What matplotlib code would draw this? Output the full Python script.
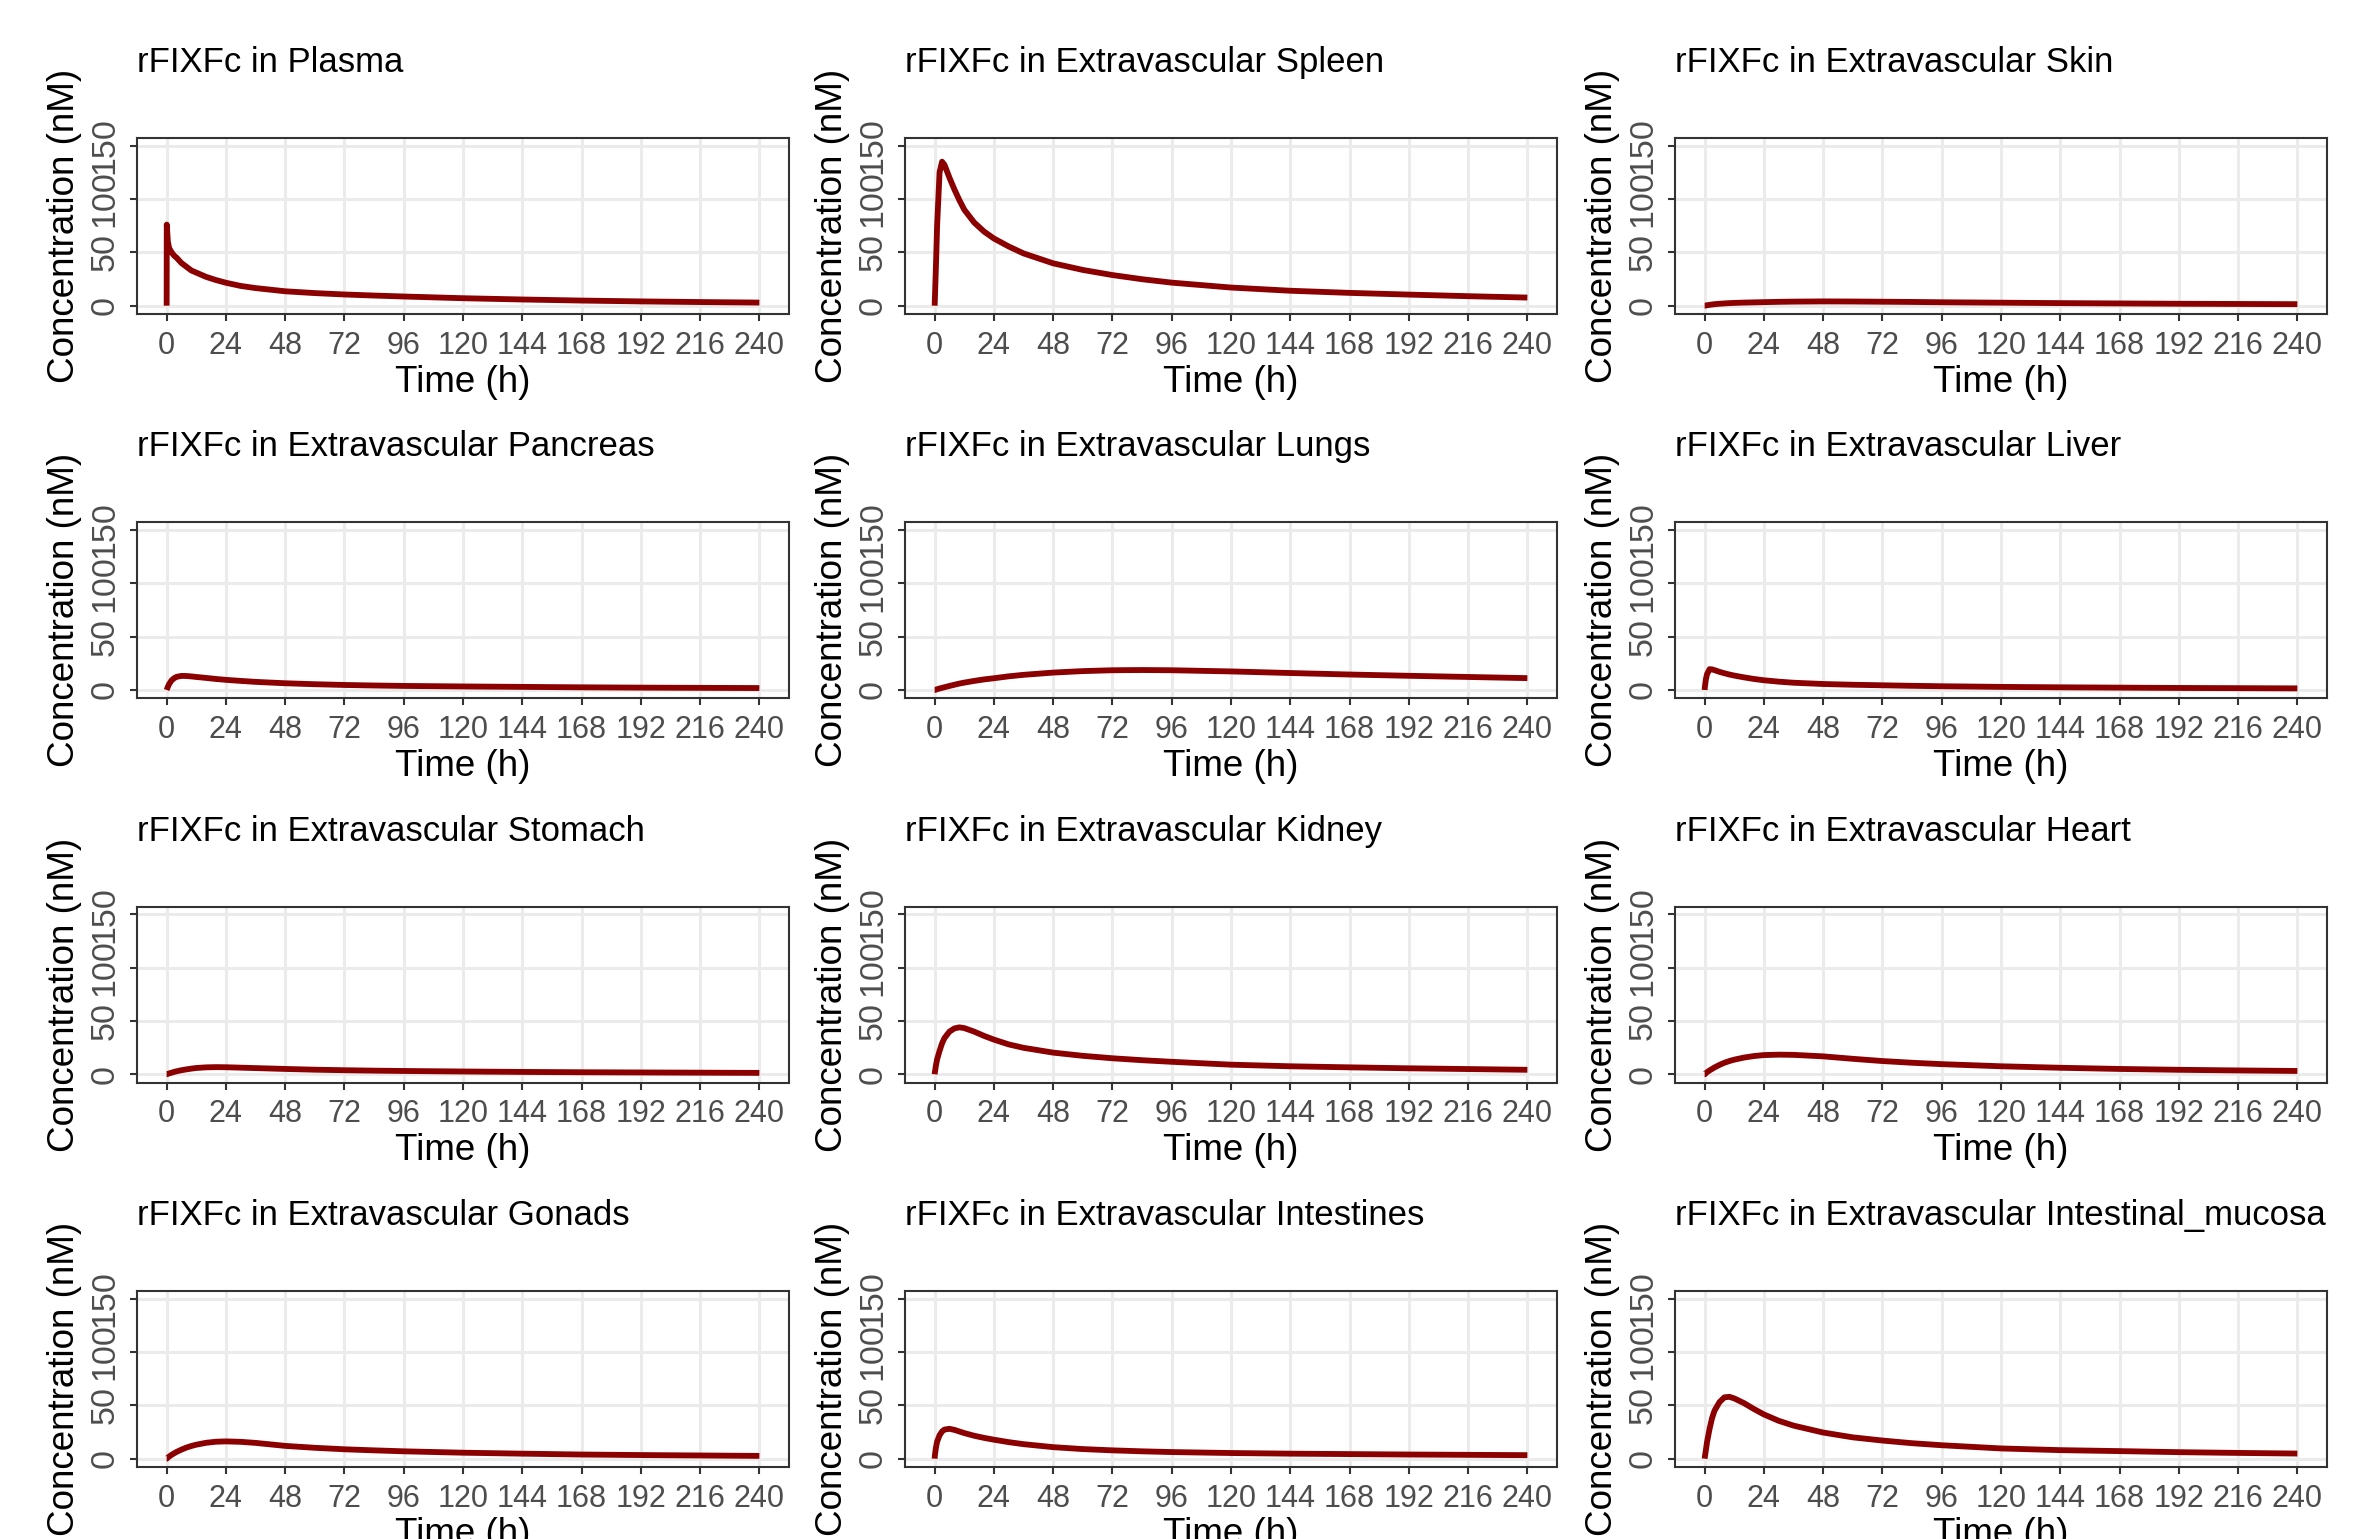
import matplotlib
matplotlib.use("Agg")
import matplotlib.pyplot as plt

plt.rcParams['font.family'] = ['Liberation Sans', 'DejaVu Sans']

# ---------------- data ----------------
time_h = [0, 0.05, 0.5, 1, 2, 3, 4, 6, 8, 10, 12, 16, 20, 24, 30, 36, 48, 60, 72, 84,
          96, 120, 144, 168, 192, 216, 240]

plasma = [0, 76, 60, 54, 50, 47, 45, 40, 36.5, 33, 31, 27, 24, 21.5, 18.5, 16.5, 13.5, 11.8,
          10.5, 9.5, 8.6, 7.0, 5.8, 4.8, 4.0, 3.4, 2.9]
spleen = [0, 3, 35, 75, 125, 135, 132, 120, 109, 99, 90, 78, 69.5, 63, 55.5, 49, 39.7, 33.5,
          28.7, 24.8, 21.6, 17, 14, 12, 10.4, 8.9, 7.6]
skin = [0, 0, 0.2, 0.4, 0.8, 1.1, 1.4, 1.8, 2.1, 2.4, 2.6, 2.9, 3.1, 3.3, 3.6, 3.8, 4.0, 3.9,
        3.7, 3.5, 3.2, 2.8, 2.4, 2.1, 1.8, 1.6, 1.4]
pancreas = [0, 0.3, 3, 5.5, 9, 11, 12.3, 13.2, 13.1, 12.7, 12.2, 11.3, 10.3, 9.5, 8.5, 7.6,
            6.3, 5.4, 4.7, 4.2, 3.8, 3.3, 2.9, 2.5, 2.2, 2.0, 1.8]
lungs = [0, 0, 0.3, 0.7, 1.4, 2.0, 2.6, 3.8, 4.9, 6.0, 6.9, 8.5, 9.9, 11.0, 12.8, 14.2, 16.3,
         17.7, 18.5, 18.7, 18.5, 17.4, 15.9, 14.5, 13.3, 12.2, 11.1]
liver = [0, 2, 10, 15, 19.5, 19.3, 18.6, 17, 15.7, 14.5, 13.5, 11.8, 10.3, 9.1, 7.8, 6.8,
         5.6, 4.9, 4.4, 3.9, 3.5, 2.9, 2.5, 2.2, 1.9, 1.7, 1.5]
stomach = [0, 0, 0.4, 0.8, 1.5, 2.2, 2.8, 3.8, 4.6, 5.3, 5.9, 6.5, 6.7, 6.6, 6.2, 5.8, 5.0,
           4.3, 3.8, 3.4, 3.1, 2.6, 2.2, 1.9, 1.7, 1.5, 1.3]
kidney = [0, 1, 8, 14, 22, 29, 34, 40, 43, 44, 43.3, 40, 36, 32.5, 28, 24.8, 20.3, 17.3,
          15, 13.2, 11.7, 9, 7.5, 6.5, 5.6, 4.9, 4.2]
heart = [0, 0, 1, 2, 3.6, 5, 6.4, 8.8, 10.8, 12.4, 13.7, 15.7, 17.1, 18, 18.4, 18.2, 16.8,
         14.5, 12.4, 10.8, 9.5, 7.5, 6.1, 5.0, 4.2, 3.6, 3.1]
gonads = [0, 0, 1, 2, 3.6, 5, 6.3, 8.5, 10.4, 11.9, 13.1, 14.9, 15.9, 16.2, 15.8, 14.8, 12,
          10.2, 8.8, 7.8, 6.9, 5.6, 4.7, 3.9, 3.4, 3.0, 2.6]
intestines = [0, 2, 10, 16, 22, 25.5, 27.3, 28, 27, 25.5, 24, 21.5, 19.5, 17.8, 15.5, 13.6,
              10.8, 9, 7.8, 6.9, 6.2, 5.3, 4.7, 4.3, 3.9, 3.6, 3.3]
intestinal_mucosa = [0, 1, 8, 16, 28, 38, 45, 53, 57.5, 58, 56.5, 52, 46.5, 41.5, 35.5, 31,
                     24.5, 20, 17, 14.5, 12.6, 9.6, 8.0, 7.1, 6.1, 5.4, 4.8]

titles = ["rFIXFc in Plasma", "rFIXFc in Extravascular Spleen", "rFIXFc in Extravascular Skin",
          "rFIXFc in Extravascular Pancreas", "rFIXFc in Extravascular Lungs",
          "rFIXFc in Extravascular Liver", "rFIXFc in Extravascular Stomach",
          "rFIXFc in Extravascular Kidney", "rFIXFc in Extravascular Heart",
          "rFIXFc in Extravascular Gonads", "rFIXFc in Extravascular Intestines",
          "rFIXFc in Extravascular Intestinal_mucosa"]
series = [plasma, spleen, skin, pancreas, lungs, liver, stomach, kidney, heart, gonads,
          intestines, intestinal_mucosa]

x_ticks = [0, 24, 48, 72, 96, 120, 144, 168, 192, 216, 240]
y_ticks = [0, 50, 100, 150]
x_label = "Time (h)"
y_label = "Concentration (nM)"

# ---------------- figure ----------------
W, H = 2366, 1539
fig = plt.figure(figsize=(W / 100, H / 100), dpi=100)

col_left = [137, 905, 1675]
row_top = [138, 522.3, 906.6, 1291]
pw, ph = 652, 176

line_color = "#8B0000"
grid_color = "#EBEBEB"
dark = "#333333"
tick_text = "#4D4D4D"

for i, (title, y) in enumerate(zip(titles, series)):
    r, c = divmod(i, 3)
    ax = fig.add_axes([col_left[c] / W, 1 - (row_top[r] + ph) / H, pw / W, ph / H])
    ax.plot(time_h, y, color=line_color, lw=4.2, solid_capstyle='butt',
            solid_joinstyle='round', zorder=3)
    ax.set_xlim(-12, 252)
    ax.set_ylim(-7.8, 157.2)
    ax.set_xticks(x_ticks)
    ax.set_yticks(y_ticks)
    ax.grid(True, color=grid_color, lw=2.2, zorder=0)
    ax.set_axisbelow(True)
    for sp in ax.spines.values():
        sp.set_color(dark)
        sp.set_linewidth(1.5)
    ax.tick_params(axis='both', colors=dark, width=1.5, length=5, labelcolor=tick_text)
    ax.tick_params(axis='x', pad=7, labelsize=22)
    ax.tick_params(axis='y', pad=7, labelrotation=90, labelsize=24.5)
    for lab in ax.get_yticklabels():
        lab.set_va('center')
    ax.text(0, 1 + 66 / ph, title, transform=ax.transAxes, ha='left', va='baseline',
            fontsize=25, color='black')
    ax.text(0.5, -68 / ph, x_label, transform=ax.transAxes, ha='center', va='center',
            fontsize=26.5, color='black')
    ax.text(-72 / pw, 0.5, y_label, transform=ax.transAxes, ha='center', va='center',
            rotation=90, fontsize=26.5, color='black')

fig.savefig("out.png", dpi=100, facecolor='white')
